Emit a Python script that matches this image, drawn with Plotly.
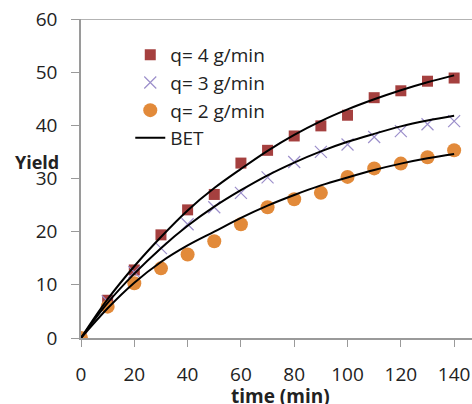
import plotly.graph_objects as go

time = [0, 10, 20, 30, 40, 50, 60, 70, 80, 90, 100, 110, 120, 130, 140]
q4 = [0, 7.1, 12.8, 19.4, 24.1, 27.0, 32.9, 35.3, 38.0, 39.9, 41.9, 45.2, 46.5, 48.3, 48.9]
q3 = [0, 6.9, 12.4, 16.9, 21.4, 24.6, 27.3, 30.2, 33.1, 35.0, 36.4, 37.8, 38.9, 40.2, 40.8]
q2 = [0, 5.9, 10.3, 13.1, 15.7, 18.2, 21.4, 24.6, 26.1, 27.3, 30.3, 31.9, 32.8, 34.0, 35.3]
bet4 = [0, 7.3, 13.5, 19.0, 24.0, 28.2, 31.8, 35.2, 38.2, 40.8, 43.0, 44.9, 46.6, 48.1, 49.4]
bet3 = [0, 6.6, 12.1, 16.9, 21.1, 24.7, 27.8, 30.6, 33.0, 35.1, 36.9, 38.4, 39.8, 40.9, 41.8]
bet2 = [0, 5.6, 10.4, 14.3, 17.4, 20.0, 22.6, 24.9, 26.9, 28.7, 30.2, 31.6, 32.8, 33.8, 34.6]

labels = ["q= 4 g/min", "q= 3 g/min", "q= 2 g/min", "BET"]
xticks = [0, 20, 40, 60, 80, 100, 120, 140]
yticks = [0, 10, 20, 30, 40, 50, 60]

FONT = "Open Sans, Liberation Sans, sans-serif"

fig = go.Figure()
fig.add_trace(go.Scatter(x=time, y=q4, mode="markers", name=labels[0],
                         marker=dict(symbol="square", size=11, color="#A5403F")))
fig.add_trace(go.Scatter(x=time, y=q3, mode="markers", name=labels[1],
                         marker=dict(symbol="x-thin", size=12, color="#9C8FCB",
                                     line=dict(width=1.2, color="#9C8FCB"))))
fig.add_trace(go.Scatter(x=time, y=q2, mode="markers", name=labels[2],
                         marker=dict(symbol="circle", size=14, color="#E28A3A")))
for i, b in enumerate([bet4, bet3, bet2]):
    fig.add_trace(go.Scatter(x=time, y=b, mode="lines", name=labels[3],
                             showlegend=(i == 0),
                             line=dict(color="black", width=2, shape="spline")))

fig.update_layout(
    width=472, height=404,
    margin=dict(l=81, r=0, t=19, b=66),
    paper_bgcolor="white", plot_bgcolor="white",
    font=dict(family=FONT, size=19, color="#222"),
    legend=dict(x=0.126, y=0.947, xanchor="left", yanchor="top",
                bgcolor="rgba(0,0,0,0)", tracegroupgap=0,
                font=dict(size=19, family=FONT)),
    xaxis=dict(range=[0, 146.7], tickvals=xticks, showgrid=False, zeroline=False,
               automargin=False, ticklabeloverflow="allow",
               showline=True, linecolor="#9a9a9a", linewidth=1.5,
               ticks="outside", ticklen=7, tickcolor="#9a9a9a",
               ticklabelstandoff=11, tickfont=dict(size=19)),
    yaxis=dict(range=[0, 60], tickvals=yticks, showgrid=False, zeroline=False,
               automargin=False, ticklabeloverflow="allow",
               showline=True, linecolor="#9a9a9a", linewidth=1.5,
               ticks="outside", ticklen=8, tickcolor="#9a9a9a",
               ticklabelstandoff=10, tickfont=dict(size=19)),
    shapes=[dict(type="line", xref="paper", yref="y", x0=-0.02, x1=1, y0=60, y1=60,
                 line=dict(color="#9a9a9a", width=1.5))],
    annotations=[
        dict(text="<b>time (min)</b>", xref="paper", yref="paper", x=0.509, y=-0.182,
             xanchor="center", yanchor="middle", showarrow=False, font=dict(size=19)),
        dict(text="<b>Yield</b>", xref="paper", yref="paper", x=-0.1125, y=0.552,
             xanchor="center", yanchor="middle", showarrow=False, font=dict(size=18)),
    ],
)

fig.write_html(
    "out.html",
    config={"displayModeBar": False},
    post_script="document.body.style.margin='0';"
                "document.documentElement.style.overflow='hidden';"
                "document.body.style.overflow='hidden';",
)
